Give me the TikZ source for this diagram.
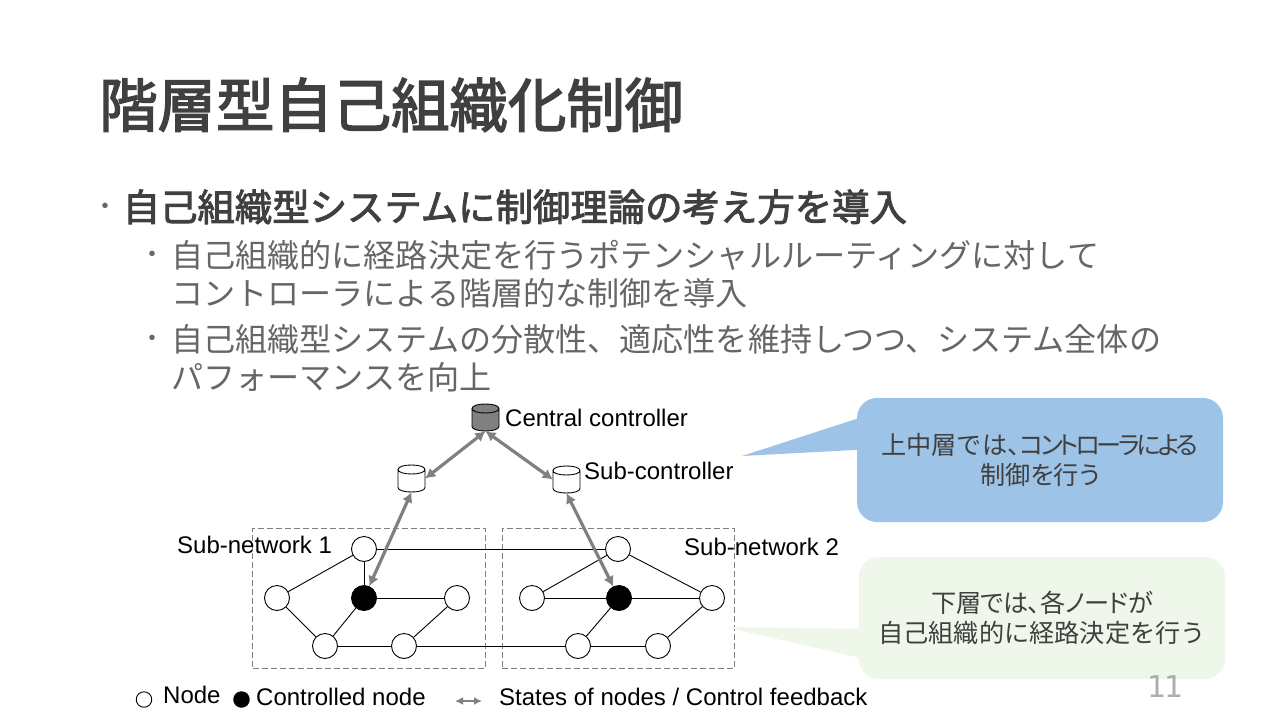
\documentclass[tikz,border=0pt]{standalone}
\usepackage{fontspec}
\setmainfont{Liberation Sans}
\newfontfamily\cjk{Noto Sans CJK JP}
\newfontfamily\cjkm[FakeBold=2.5]{Noto Sans CJK JP}
\newfontfamily\cjkp[RawFeature=+palt]{Noto Sans CJK JP}
\newfontfamily\cjkq[LetterSpace=-2,RawFeature=+palt]{Noto Sans CJK JP}
\newfontfamily\cjkt[LetterSpace=-13,RawFeature=+palt]{Noto Sans CJK JP}
\newfontfamily\numf[LetterSpace=-10]{DejaVu Sans}
\usetikzlibrary{arrows.meta,calc}
\definecolor{titlec}{HTML}{404040}
\definecolor{bodyc}{HTML}{666666}
\definecolor{blueb}{HTML}{9DC3E6}
\definecolor{greenb}{HTML}{EFF6EA}
\definecolor{arrowc}{HTML}{808080}
\tikzset{
 titletext/.style={anchor=base west,inner sep=0,text=titlec,font=\cjkm\fontsize{58.4}{60}\selectfont},
 leadtext/.style={anchor=base west,inner sep=0,text=titlec,font=\cjkm\fontsize{37.4}{40}\selectfont},
 subtext/.style={anchor=base west,inner sep=0,text=bodyc,font=\cjk\fontsize{32.1}{34}\selectfont},
 bullet/.style={anchor=center,inner sep=0,text=bodyc,font=\fontsize{20}{20}\selectfont},
 lab/.style={anchor=base west,inner sep=0,text=black,font=\fontsize{24}{26}\selectfont},
 net/.style={circle,draw=black,line width=0.9pt,fill=white,minimum size=25pt,inner sep=0},
 ctrl/.style={net,fill=black},
 netbox/.style={draw=arrowc,line width=0.8pt,dash pattern=on 6pt off 3pt,minimum width=232.5pt,minimum height=140pt,inner sep=0},
 drumbox/.style={rectangle,minimum width=27pt,minimum height=27pt,inner sep=0},
 drumline/.style={draw=black,line width=0.9pt},
 link/.style={draw=black,line width=0.9pt},
 ctl/.style={draw=arrowc,line width=3.2pt,{Latex[length=10pt,width=11pt]}-{Latex[length=10pt,width=11pt]}},
 legarrow/.style={draw=arrowc,line width=2pt,{Latex[length=8pt,width=8pt]}-{Latex[length=8pt,width=8pt]}},
 callout/.style={rounded corners=20pt,inner sep=0,align=center,text=titlec,font=\cjkp\fontsize{25.2}{30.5}\selectfont},
 pagenum/.style={anchor=center,inner sep=0,text=black!32,font=\numf\fontsize{30}{30}\selectfont}
}
\newcommand{\drum}[4]{%
 \node[drumbox] (#1) at (#2,#3) {};
 \begin{scope}[shift={(#2,#3)}]
 \path[drumline,fill=#4] (-13.5,-9) -- (-13.5,9) .. controls (-13.5,15) and (13.5,15) .. (13.5,9) -- (13.5,-9) .. controls (13.5,-15) and (-13.5,-15) .. (-13.5,-9) .. controls (-13.5,-3) and (13.5,-3) .. (13.5,-9);
 \end{scope}}
\begin{document}
\begin{tikzpicture}[x=1pt,y=-1pt]
\useasboundingbox (0,0) rectangle (1280,720);
\fill[white] (0,0) rectangle (1280,720);
\node[titletext] (title) at (99,127) {階層型自己組織化制御};
\node[bullet] (b1) at (105,208) {•};
\node[leadtext] (l1) at (122.5,221) {自己組織型システムに制御理論の考え方を導入};
\node[bullet] (b2) at (152,256) {•};
\node[subtext] (l2) at (171,267) {自己組織的に経路決定を行うポテンシャルルーティングに対して};
\node[subtext] (l3) at (171,305) {コントローラによる階層的な制御を導入};
\node[bullet] (b3) at (152,340) {•};
\node[subtext] (l4) at (171,351) {自己組織型システムの分散性、適応性を維持しつつ、システム全体の};
\node[subtext] (l5) at (171,389) {パフォーマンスを向上};
% sub-network boxes
\node[netbox] (box1) at (368.75,598) {};
\node[netbox] (box2) at (618.25,598) {};
% nodes of network 1
\node[net] (a1) at (364,549) {};
\node[net] (a2) at (277,598) {};
\node[ctrl] (a3) at (364,598) {};
\node[net] (a4) at (457,598) {};
\node[net] (a5) at (325,646) {};
\node[net] (a6) at (404,646) {};
% nodes of network 2
\node[net] (c1) at (618,549) {};
\node[net] (c2) at (532,598) {};
\node[ctrl] (c3) at (619,598) {};
\node[net] (c4) at (712,598) {};
\node[net] (c5) at (578,646) {};
\node[net] (c6) at (658,646) {};
% links
\draw[link] (a1) -- (c1);
\draw[link] (a1) -- (a2);
\draw[link] (a1) -- (a3);
\draw[link] (a2) -- (a5);
\draw[link] (a3) -- (a5);
\draw[link] (a3) -- (a4);
\draw[link] (a4) -- (a6);
\draw[link] (a5) -- (a6);
\draw[link] (a6) -- (c5);
\draw[link] (c1) -- (c2);
\draw[link] (c1) -- (c4);
\draw[link] (c2) -- (c3);
\draw[link] (c3) -- (c4);
\draw[link] (c3) -- (c5);
\draw[link] (c5) -- (c6);
\draw[link] (c6) -- (c4);
% controllers
\drum{central}{485.5}{417.5}{arrowc}
\drum{subA}{411.5}{478.5}{white}
\drum{subB}{566.5}{479.5}{white}
\draw[ctl] (central.south) -- (subA.east);
\draw[ctl] (central.south) -- (subB.west);
\draw[ctl] (subA.south) -- (a3);
\draw[ctl] (subB.south) -- (c3);
% labels
\node[lab] (tc) at (505,426) {Central controller};
\node[lab] (ts) at (584,479) {Sub-controller};
\node[lab] (t1) at (177,553.5) {Sub-network 1};
\node[lab] (t2) at (684,555.5) {Sub-network 2};
% legend
\node[net,minimum size=15.5pt] (ln) at (144,699.5) {};
\node[lab] (tn) at (163,703) {Node};
\node[ctrl,minimum size=15.5pt] (lc) at (241.5,699.5) {};
\node[lab] (tl) at (256,705.5) {Controlled node};
\coordinate (la) at (455,701);
\coordinate (lb) at (482,701);
\draw[legarrow] (la) -- (lb);
\node[lab] (ta) at (499,705.5) {States of nodes / Control feedback};
% callouts
\node[callout,fill=blueb,minimum width=366pt,minimum height=124pt] (callA) at (1040,460) {{\cjk 上中層では}、{\cjkt コントローラによる}\\制御を行う};
\coordinate (tipA) at (742,456);
\fill[blueb] (tipA) -- ($(callA.north west)+(0,21)$) -- ($(callA.north west)+(1,52)$) -- cycle;
\node[callout,fill=greenb,minimum width=366pt,minimum height=122pt] (callB) at (1042,618) {{\cjkq 下層では、各ノードが}\\{\cjk 自己組織的に経路決定を行う}};
\coordinate (tipB) at (725,627);
\fill[greenb] (tipB) -- ($(callB.north west)+(1,72)$) -- ($(callB.north west)+(1,101)$) -- cycle;
\node[pagenum] (pg) at (1165.5,687) {11};
\end{tikzpicture}
\end{document}
